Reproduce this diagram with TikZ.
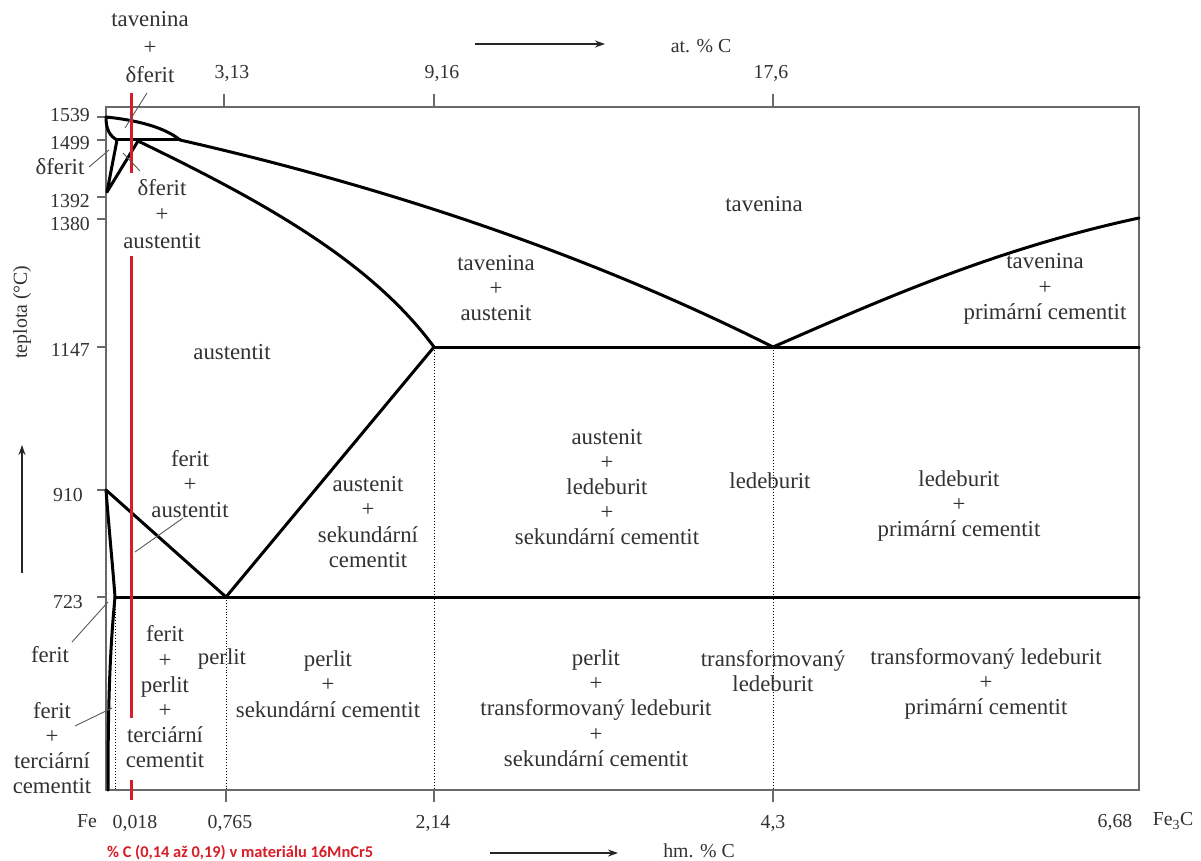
\documentclass[tikz,border=0pt]{standalone}
\usepackage{fontspec}
\setmainfont{Liberation Serif}
\newfontfamily\redfont{Carlito}
\usetikzlibrary{arrows.meta}
\definecolor{txtgray}{RGB}{50,50,50}
\definecolor{framegray}{RGB}{105,105,105}
\definecolor{leadgray}{RGB}{90,90,90}
\definecolor{redc}{RGB}{215,30,40}
\begin{document}
\begin{tikzpicture}[x=1pt,y=-1pt,
  lbl/.style={font=\fontsize{22.8}{25.2}\selectfont, align=center, inner sep=0pt, text=txtgray},
  num/.style={font=\fontsize{19.8}{23}\selectfont, inner sep=0pt, text=txtgray},
  phase/.style={line width=3pt, black, line join=round, line cap=round},
  frame/.style={line width=1.8pt, framegray},
  dotl/.style={line width=0.9pt, dotted, black},
  leader/.style={line width=0.9pt, leadgray},
  tickln/.style={line width=1.3pt, framegray},
  redln/.style={line width=3pt, redc},
  axarrow/.style={line width=1.5pt, black!85, -{Stealth[length=10pt,width=7pt]}},
]
\useasboundingbox (0,0) rectangle (1201,861);
\fill[white] (0,0) rectangle (1201,861);

% frame
\draw[frame] (106,107) rectangle (1139,790);

% ticks left
\foreach \yy in {117,140,197,219,347,490,597} \draw[tickln] (97,\yy) -- (106,\yy);
% ticks top
\foreach \xx in {224,434,773} \draw[tickln] (\xx,94) -- (\xx,107);
% ticks bottom
\foreach \xx in {226,434,773} \draw[tickln] (\xx,790) -- (\xx,802);

% dotted verticals
\draw[dotl] (115,597) -- (115,790);
\draw[dotl] (226,597) -- (226,790);
\draw[dotl] (434,347) -- (434,790);
\draw[dotl] (773,347) -- (773,790);

% phase lines
\coordinate (A) at (106,117);
\coordinate (H) at (117,140);
\coordinate (B) at (180,140);
\coordinate (N) at (107,192);
\coordinate (J) at (138,141);
\coordinate (E) at (434,347);
\coordinate (C) at (773,347);
\coordinate (D) at (1139,218);
\coordinate (F) at (1139,347);
\coordinate (G) at (106,490);
\coordinate (S) at (226,597);
\coordinate (P) at (115,597);
\coordinate (K) at (1139,597);
\coordinate (Q) at (108,790);

\draw[phase] (A) .. controls (145,121) and (168,130) .. (B);
\draw[phase] (A) .. controls (106,130) and (110,136) .. (H);
\draw[phase] (H) -- (B);
\draw[phase] (H) -- (N) -- (J);
\draw[phase] (J) .. controls (260,200) and (370,260) .. (E);
\draw[phase] (B) .. controls (400,190) and (600,260) .. (C);
\draw[phase] (C) .. controls (870,305) and (990,250) .. (D);
\draw[phase] (E) -- (F);
\draw[phase] (G) -- (S) -- (E);
\draw[phase] (G) .. controls (110,540) and (113,570) .. (P);
\draw[phase] (P) -- (K);
\draw[phase] (P) .. controls (110,650) and (108,700) .. (Q);

% red line
\draw[redln] (131,93) -- (131,173);
\draw[redln] (131,256) -- (131,718);
\draw[redln] (131,780) -- (131,800);

% left axis numbers
\node[num, anchor=east] (t1539) at (90,115) {1539};
\node[num, anchor=east] (t1499) at (90,143) {1499};
\node[num, anchor=east] (t1392) at (90,201) {1392};
\node[num, anchor=east] (t1380) at (90,224) {1380};
\node[num, anchor=east] (t1147) at (90,350) {1147};
\node[num, anchor=east] (t910) at (83,495) {910};
\node[num, anchor=east] (t723) at (83,602) {723};

% top numbers
\node[num] (a313) at (232,73) {3,13};
\node[num] (a916) at (442,73) {9,16};
\node[num] (a176) at (771,73) {17,6};
\node[num] (atlab) at (701,46) {at. \% C};
\coordinate (ta1) at (475,44);
\coordinate (ta2) at (605,44);
\draw[axarrow] (ta1) -- (ta2);

% bottom numbers
\node[num] (bFe) at (87,821) {Fe};
\node[num] (b0018) at (135,823) {0,018};
\node[num] (b0765) at (230,823) {0,765};
\node[num] (b214) at (433,823) {2,14};
\node[num] (b43) at (773,823) {4,3};
\node[num] (b668) at (1115,822) {6,68};
\node[num] (bFe3C) at (1173,821) {Fe\textsubscript{3}C};
\node[num] (hmlab) at (699,851) {hm. \% C};
\coordinate (ba1) at (490,853);
\coordinate (ba2) at (618,853);
\draw[axarrow] (ba1) -- (ba2);

\node[anchor=west, inner sep=0pt, text=redc, font=\redfont\bfseries\fontsize{16.4}{18}\selectfont] (redtxt) at (107,853) {\% C (0,14 až 0,19) v materiálu 16MnCr5};

% temperature axis
\node[num, rotate=90] (teplota) at (22,312) {teplota (°C)};
\coordinate (la1) at (22,573);
\coordinate (la2) at (22,445);
\draw[axarrow] (la1) -- (la2);

% region labels
\node[lbl] (L1) at (150,47) {tavenina\\[3pt]+\\[3pt]δferit};
\node[lbl] (L2) at (60,167) {δferit};
\node[lbl] (L3) at (162,214) {δferit\\[1pt]+\\[1pt]austentit};
\node[lbl] (L4) at (232,352) {austentit};
\node[lbl] (L5) at (190,484) {ferit\\+\\austentit};
\node[lbl] (L6) at (368,522) {austenit\\+\\sekundární\\cementit};
\node[lbl] (L7) at (496,288) {tavenina\\+\\austenit};
\node[lbl] (L8) at (764,204) {tavenina};
\node[lbl] (L9) at (1045,289) {tavenina\\+\\primární cementit};
\node[lbl] (L10) at (607,487) {austenit\\+\\ledeburit\\+\\sekundární cementit};
\node[lbl] (L11) at (770,481) {ledeburit};
\node[lbl] (L12) at (959,506) {ledeburit\\+\\primární cementit};
\node[lbl] (L13) at (50,655) {ferit};
\node[lbl] (L14) at (52,748) {ferit\\+\\terciární\\cementit};
\node[lbl] (L15) at (165,697) {ferit\\+\\perlit\\+\\terciární\\cementit};
\node[lbl] (L16) at (222,659) {perlit};
\node[lbl] (L17) at (328,684) {perlit\\+\\sekundární cementit};
\node[lbl] (L18) at (596,708) {perlit\\+\\transformovaný ledeburit\\+\\sekundární cementit};
\node[lbl] (L19) at (773,671) {transformovaný\\ledeburit};
\node[lbl] (L20) at (986,684) {transformovaný ledeburit\\+\\primární cementit};

% leader lines
\coordinate (l1a) at (147,93);  \coordinate (l1b) at (125,128);
\coordinate (l2a) at (89,167);  \coordinate (l2b) at (109,150);
\coordinate (l3a) at (140,171); \coordinate (l3b) at (123,153);
\coordinate (l5a) at (183,518); \coordinate (l5b) at (135,552);
\coordinate (l13a) at (72,642); \coordinate (l13b) at (108,602);
\coordinate (l14a) at (75,726); \coordinate (l14b) at (112,708);
\draw[leader] (l1a) -- (l1b);
\draw[leader] (l2a) -- (l2b);
\draw[leader] (l3a) -- (l3b);
\draw[leader] (l5a) -- (l5b);
\draw[leader] (l13a) -- (l13b);
\draw[leader] (l14a) -- (l14b);
\end{tikzpicture}
\end{document}
